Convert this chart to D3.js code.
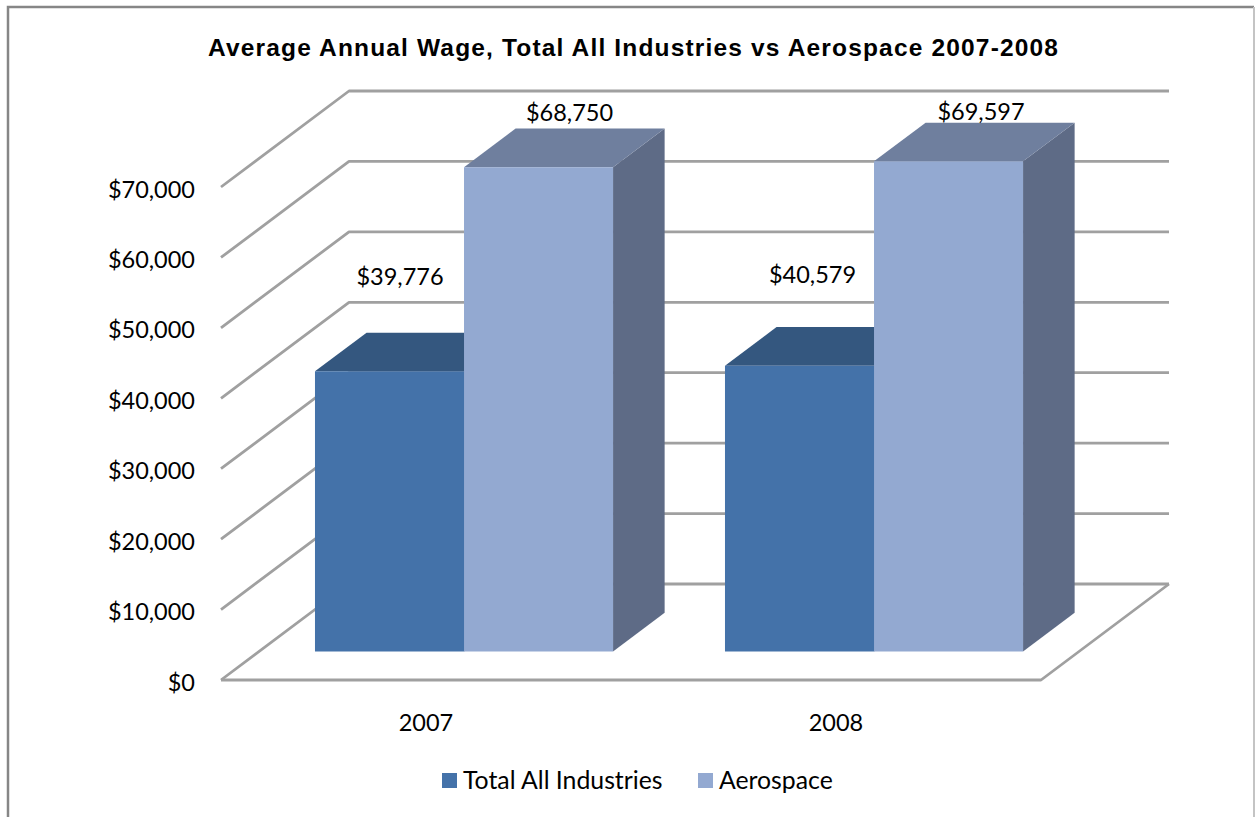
<!DOCTYPE html>
<html>
<head>
<meta charset="utf-8">
<script src="https://cdn.jsdelivr.net/npm/d3@7"></script>
<style>
    html, body { margin: 0; padding: 0; background: #fff; }
    svg { display: block; }
    .axis text, .label { font-family: Lato, "Open Sans", sans-serif; font-size: 23.5px; fill: #000; }
    .legend text { font-family: Lato, "Open Sans", sans-serif; font-size: 24.8px; fill: #000; }
    .axis path, .axis line { display: none; }
    .title { font-family: "Liberation Sans", Arial, sans-serif; font-weight: bold; font-size: 24.5px; fill: #000; }
    .grid { fill: none; stroke: #a0a0a0; stroke-width: 2.8; stroke-linejoin: round; }
</style>
</head>
<body>
<div id="chart"></div>
<script>
var years = ["2007", "2008"];
var seriesNames = ["Total All Industries", "Aerospace"];
var totalAll = [39776, 40579];
var aerospace = [68750, 69597];
var yTicks = [0, 10000, 20000, 30000, 40000, 50000, 60000, 70000];
var chartTitle = "Average Annual Wage, Total All Industries vs Aerospace 2007-2008";

var seriesValues = [totalAll, aerospace];
var faceColors = ["#4472a9", "#93a9d1"];
var topColors = ["#34577f", "#6f7f9e"];
var sideColors = ["#2b4a6e", "#5e6b86"];

var width = 1255, height = 817;

var svg = d3.select("#chart").append("svg")
    .attr("width", width)
    .attr("height", height);

// the frame has no bottom edge, the picture is cut off there
svg.append("path").attr("d", "M8,817V7H1254").attr("fill", "none").attr("stroke", "#868686").attr("stroke-width", 2.5);
svg.append("path").attr("d", "M1254,7V817").attr("fill", "none").attr("stroke", "#c4c4c4").attr("stroke-width", 2);

svg.append("text").attr("class", "title")
    .attr("x", 633).attr("y", 56)
    .attr("text-anchor", "middle")
    .attr("textLength", 850)
    .text(chartTitle);

// front edge of the floor
var x = d3.scaleBand().domain(years).range([221, 1041]).paddingInner(0.273).paddingOuter(0.1365);
var xSeries = d3.scaleBand().domain(seriesNames).range([0, x.bandwidth()]);
var y = d3.scaleLinear().domain([0, 70000]).range([680, 187]);

// oblique projection, depth runs 0 (front of floor) to 1 (back wall)
var depthX = d3.scaleLinear().domain([0, 1]).range([0, 128]);
var depthY = d3.scaleLinear().domain([0, 1]).range([0, -96]);
var barFront = 0.297, barBack = 0.7;

function pt(px, value, depth) {
    return [px + depthX(depth), y(value) + depthY(depth)];
}
var poly = d3.line();

// walls and floor
var x0 = x.range()[0], x1 = x.range()[1];
svg.append("g").selectAll("path")
    .data(yTicks)
    .enter().append("path")
    .attr("class", "grid")
    .attr("d", function(d) { return poly([pt(x0, d, 0), pt(x0, d, 1), pt(x1, d, 1)]); });

svg.append("path").attr("class", "grid")
    .attr("d", poly([pt(x0, 0, 0), pt(x1, 0, 0), pt(x1, 0, 1)]));

// bars
seriesNames.forEach(function(name, s) {
    var g = svg.append("g").selectAll("g")
        .data(years)
        .enter().append("g");

    function left(yr) { return x(yr) + xSeries(name); }
    function right(yr) { return left(yr) + xSeries.bandwidth(); }
    function val(i) { return seriesValues[s][i]; }

    g.append("path").attr("fill", sideColors[s])
        .attr("d", function(d, i) {
            return poly([pt(right(d), 0, barFront), pt(right(d), 0, barBack), pt(right(d), val(i), barBack), pt(right(d), val(i), barFront)]) + "Z";
        });
    g.append("path").attr("fill", topColors[s])
        .attr("d", function(d, i) {
            return poly([pt(left(d), val(i), barFront), pt(left(d), val(i), barBack), pt(right(d), val(i), barBack), pt(right(d), val(i), barFront)]) + "Z";
        });
    g.append("path").attr("fill", faceColors[s])
        .attr("d", function(d, i) {
            return poly([pt(left(d), 0, barFront), pt(left(d), val(i), barFront), pt(right(d), val(i), barFront), pt(right(d), 0, barFront)]) + "Z";
        });
});

// data labels, placed by hand like the original chart
var labelOffsets = [[[10.5, -95], [13, -91]], [[31, -55], [32.5, -50]]];
var money = d3.format("$,");
seriesNames.forEach(function(name, s) {
    svg.append("g").selectAll("text")
        .data(years)
        .enter().append("text")
        .attr("class", "label")
        .attr("text-anchor", "middle")
        .attr("dy", "0.35em")
        .attr("x", function(d, i) {
            return pt(x(d) + xSeries(name) + xSeries.bandwidth() / 2, 0, barFront)[0] + labelOffsets[s][i][0];
        })
        .attr("y", function(d, i) {
            return pt(0, seriesValues[s][i], barFront)[1] + labelOffsets[s][i][1];
        })
        .text(function(d, i) { return money(seriesValues[s][i]); });
});

// axes
svg.append("g").attr("class", "axis")
    .attr("transform", "translate(195,2.5)")
    .call(d3.axisLeft(y).tickValues(yTicks).tickSize(0).tickPadding(0).tickFormat(money));

svg.append("g").attr("class", "axis")
    .attr("transform", "translate(0,700)")
    .call(d3.axisBottom(x).tickSize(0).tickPadding(14));

// legend
var legendX = [442, 698];
var legend = svg.append("g").attr("class", "legend").selectAll("g")
    .data(seriesNames)
    .enter().append("g")
    .attr("transform", function(d, i) { return "translate(" + legendX[i] + ",773)"; });

legend.append("rect").attr("width", 15).attr("height", 15)
    .attr("fill", function(d, i) { return faceColors[i]; });

legend.append("text").attr("x", 21).attr("y", 7).attr("dy", "0.35em")
    .text(function(d) { return d; });
</script>
</body>
</html>
